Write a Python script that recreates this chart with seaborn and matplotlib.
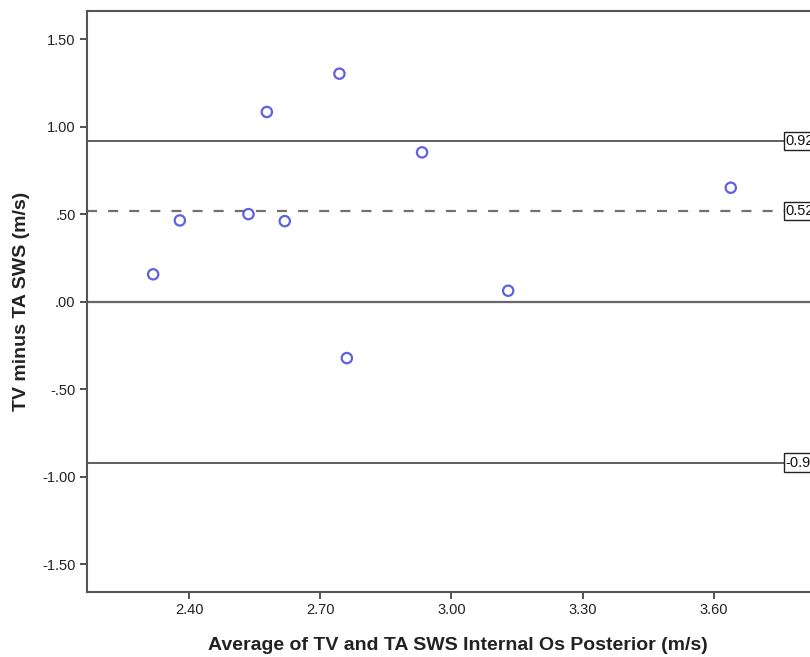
import matplotlib
matplotlib.use("Agg")
import matplotlib.pyplot as plt
import seaborn as sns
import pandas as pd

# Data
avg_values = [2.318, 2.379, 2.536, 2.619, 2.578, 2.744, 2.761, 2.933, 3.130, 3.639]
diff_values = [0.157, 0.465, 0.501, 0.461, 1.085, 1.304, -0.322, 0.854, 0.063, 0.652]

mean_diff = 0.52
upper_loa = 0.92
lower_loa = -0.92
ref_labels = ["0.92", "0.52", "-0.92"]

x_ticks = [2.40, 2.70, 3.00, 3.30, 3.60]
x_tick_labels = ["2.40", "2.70", "3.00", "3.30", "3.60"]
y_ticks = [-1.50, -1.00, -0.50, 0.00, 0.50, 1.00, 1.50]
y_tick_labels = ["-1.50", "-1.00", "-.50", ".00", ".50", "1.00", "1.50"]

x_label = "Average of TV and TA SWS Internal Os Posterior (m/s)"
y_label = "TV minus TA SWS (m/s)"

df = pd.DataFrame({"avg": avg_values, "diff": diff_values})

sns.set_theme(style="white")
plt.rcParams["font.family"] = ["Liberation Sans", "DejaVu Sans"]

fig = plt.figure(figsize=(8.1, 6.57), dpi=100)
ax = fig.add_axes([86.7 / 810, 64.7 / 657, (830 - 86.7) / 810, (592.3 - 10.7) / 657])

xlim = (2.166, 3.866)
ylim = (-1.661, 1.664)
label_x = 3.765

# reference lines
ax.hlines(0.0, xlim[0], xlim[1], colors="#666666", linewidth=1.6, zorder=1)
ax.hlines([upper_loa, lower_loa], xlim[0], label_x, colors="#333333", linewidth=1.1, zorder=1)
ax.hlines(mean_diff, xlim[0], label_x, colors="#707070", linewidth=1.6,
          linestyles=(0, (4.5, 5)), zorder=1)

sns.scatterplot(data=df, x="avg", y="diff", ax=ax, s=55, marker="o",
                facecolor="none", edgecolor="#6060e0", linewidth=1.6, zorder=3)

for val, lab in zip([upper_loa, mean_diff, lower_loa], ref_labels):
    ax.text(label_x, val, lab, ha="left", va="center", fontsize=10.5, color="#111111",
            bbox=dict(boxstyle="square,pad=0.15", facecolor="white", edgecolor="#222222",
                      linewidth=1.0), zorder=4, clip_on=False)

ax.set_xlim(*xlim)
ax.set_ylim(*ylim)
ax.set_xticks(x_ticks)
ax.set_xticklabels(x_tick_labels)
ax.set_yticks(y_ticks)
ax.set_yticklabels(y_tick_labels)

ax.tick_params(axis="both", direction="out", length=5, width=1.3, color="#444444",
               labelsize=10.5, labelcolor="#222222", pad=3, left=True, bottom=True)
ax.tick_params(axis="x", pad=3)

for side in ["left", "bottom", "top"]:
    ax.spines[side].set_visible(True)
    ax.spines[side].set_color("#555555")
    ax.spines[side].set_linewidth(1.5)
ax.spines["right"].set_visible(False)

ax.set_xlabel(x_label, fontsize=14, fontweight="bold", color="#222222", labelpad=14)
ax.set_ylabel(y_label, fontsize=14, fontweight="bold", color="#222222", labelpad=9)

fig.savefig("out.png", dpi=100, facecolor="white")
